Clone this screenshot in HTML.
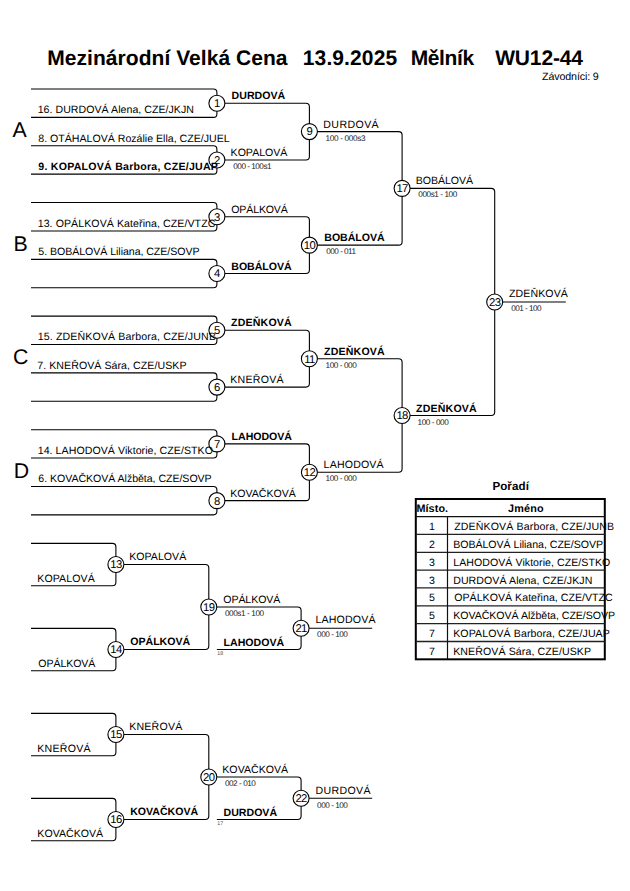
<!DOCTYPE html>
<html><head><meta charset="utf-8"><style>
html,body{margin:0;padding:0;background:#fff;width:630px;height:891px;overflow:hidden}
svg{position:absolute;left:0;top:0}
text{font-family:"Liberation Sans", sans-serif;fill:#000;white-space:pre;text-rendering:geometricPrecision}
.n{font-size:10.6px;font-weight:normal}
.b{font-size:10.6px;font-weight:bold}
.s{font-size:8.2px;font-weight:normal}
.tiny{font-size:5.3px;font-weight:normal}
.title{font-size:21px;font-weight:bold}
.zav{font-size:10.7px;font-weight:normal}
.L{font-size:21.3px;font-weight:normal}
.th{font-size:10.8px;font-weight:bold}
.tn{font-size:10.6px;font-weight:normal}
.tt{font-size:11.6px;font-weight:bold}
.cn{font-size:11.3px;font-weight:normal}
.s{fill:#222}
.tiny{fill:#555}
.cn{text-anchor:middle;letter-spacing:-0.6px}
</style></head><body>
<svg width="630" height="891" viewBox="0 0 630 891">
<g fill="none" stroke="#000" stroke-width="1.1">
<path d="M31.00,89.00H213.40Q216.90,89.00 216.90,92.50V113.89Q216.90,117.39 213.40,117.39H31.00"/>
<circle cx="216.90" cy="103.19" r="8.0" fill="#fff"/>
<path d="M31.00,145.78H213.40Q216.90,145.78 216.90,149.28V170.67Q216.90,174.17 213.40,174.17H31.00"/>
<circle cx="216.90" cy="159.98" r="8.0" fill="#fff"/>
<path d="M31.00,202.56H213.40Q216.90,202.56 216.90,206.06V227.45Q216.90,230.95 213.40,230.95H31.00"/>
<circle cx="216.90" cy="216.75" r="8.0" fill="#fff"/>
<path d="M31.00,259.34H213.40Q216.90,259.34 216.90,262.84V284.23Q216.90,287.73 213.40,287.73H31.00"/>
<circle cx="216.90" cy="273.54" r="8.0" fill="#fff"/>
<path d="M31.00,316.12H213.40Q216.90,316.12 216.90,319.62V341.01Q216.90,344.51 213.40,344.51H31.00"/>
<circle cx="216.90" cy="330.31" r="8.0" fill="#fff"/>
<path d="M31.00,372.90H213.40Q216.90,372.90 216.90,376.40V397.79Q216.90,401.29 213.40,401.29H31.00"/>
<circle cx="216.90" cy="387.10" r="8.0" fill="#fff"/>
<path d="M31.00,429.68H213.40Q216.90,429.68 216.90,433.18V454.57Q216.90,458.07 213.40,458.07H31.00"/>
<circle cx="216.90" cy="443.88" r="8.0" fill="#fff"/>
<path d="M31.00,486.46H213.40Q216.90,486.46 216.90,489.96V511.35Q216.90,514.85 213.40,514.85H31.00"/>
<circle cx="216.90" cy="500.66" r="8.0" fill="#fff"/>
<path d="M224.90,103.19H305.90Q309.40,103.19 309.40,106.69V156.48Q309.40,159.98 305.90,159.98H224.90"/>
<circle cx="309.40" cy="131.59" r="8.0" fill="#fff"/>
<path d="M224.90,216.75H305.90Q309.40,216.75 309.40,220.25V270.04Q309.40,273.54 305.90,273.54H224.90"/>
<circle cx="309.40" cy="245.15" r="8.0" fill="#fff"/>
<path d="M224.90,330.31H305.90Q309.40,330.31 309.40,333.81V383.60Q309.40,387.10 305.90,387.10H224.90"/>
<circle cx="309.40" cy="358.71" r="8.0" fill="#fff"/>
<path d="M224.90,443.88H305.90Q309.40,443.88 309.40,447.38V497.16Q309.40,500.66 305.90,500.66H224.90"/>
<circle cx="309.40" cy="472.26" r="8.0" fill="#fff"/>
<path d="M317.40,131.59H398.60Q402.10,131.59 402.10,135.09V241.65Q402.10,245.15 398.60,245.15H317.40"/>
<circle cx="402.10" cy="188.37" r="8.0" fill="#fff"/>
<path d="M317.40,358.71H398.60Q402.10,358.71 402.10,362.21V468.76Q402.10,472.26 398.60,472.26H317.40"/>
<circle cx="402.10" cy="415.49" r="8.0" fill="#fff"/>
<path d="M410.10,188.37H491.20Q494.70,188.37 494.70,191.87V411.99Q494.70,415.49 491.20,415.49H410.10"/>
<circle cx="494.70" cy="301.93" r="8.0" fill="#fff"/>
<path d="M502.70,301.93H565.80"/>
<path d="M31.00,543.40H112.40Q115.90,543.40 115.90,546.90V582.20Q115.90,585.70 112.40,585.70H31.00"/>
<circle cx="115.90" cy="564.55" r="8.0" fill="#fff"/>
<path d="M31.00,628.40H112.40Q115.90,628.40 115.90,631.90V667.20Q115.90,670.70 112.40,670.70H31.00"/>
<circle cx="115.90" cy="649.55" r="8.0" fill="#fff"/>
<path d="M123.90,564.55H205.30Q208.80,564.55 208.80,568.05V646.05Q208.80,649.55 205.30,649.55H123.90"/>
<circle cx="208.80" cy="607.05" r="8.0" fill="#fff"/>
<path d="M216.90,607.05H297.60Q301.10,607.05 301.10,610.55V646.05Q301.10,649.55 297.60,649.55H216.90"/>
<circle cx="301.10" cy="628.30" r="8.0" fill="#fff"/>
<path d="M309.10,628.30H372.20"/>
<path d="M31.00,713.40H112.40Q115.90,713.40 115.90,716.90V752.20Q115.90,755.70 112.40,755.70H31.00"/>
<circle cx="115.90" cy="734.55" r="8.0" fill="#fff"/>
<path d="M31.00,798.40H112.40Q115.90,798.40 115.90,801.90V837.20Q115.90,840.70 112.40,840.70H31.00"/>
<circle cx="115.90" cy="819.55" r="8.0" fill="#fff"/>
<path d="M123.90,734.55H205.30Q208.80,734.55 208.80,738.05V816.05Q208.80,819.55 205.30,819.55H123.90"/>
<circle cx="208.80" cy="777.05" r="8.0" fill="#fff"/>
<path d="M216.90,777.05H297.60Q301.10,777.05 301.10,780.55V816.05Q301.10,819.55 297.60,819.55H216.90"/>
<circle cx="301.10" cy="798.30" r="8.0" fill="#fff"/>
<path d="M309.10,798.30H372.20"/>
</g>
<rect x="415.8" y="499.0" width="189.00" height="160.32" fill="none" stroke="#000" stroke-width="2"/>
<path d="M415.8,516.6H604.8" stroke="#111" stroke-width="1.4"/>
<path d="M415.8,534.44H604.8" stroke="#222" stroke-width="1.3"/>
<path d="M415.8,552.28H604.8" stroke="#222" stroke-width="1.3"/>
<path d="M415.8,570.12H604.8" stroke="#222" stroke-width="1.3"/>
<path d="M415.8,587.96H604.8" stroke="#222" stroke-width="1.3"/>
<path d="M415.8,605.80H604.8" stroke="#222" stroke-width="1.3"/>
<path d="M415.8,623.64H604.8" stroke="#222" stroke-width="1.3"/>
<path d="M415.8,641.48H604.8" stroke="#222" stroke-width="1.3"/>
<path d="M447.5,516.6V659.32" stroke="#111" stroke-width="1.2"/>
<text x="216.90" y="107.09" class="cn">1</text>
<text x="216.90" y="163.88" class="cn">2</text>
<text x="216.90" y="220.66" class="cn">3</text>
<text x="216.90" y="277.44" class="cn">4</text>
<text x="216.90" y="334.21" class="cn">5</text>
<text x="216.90" y="391.00" class="cn">6</text>
<text x="216.90" y="447.77" class="cn">7</text>
<text x="216.90" y="504.56" class="cn">8</text>
<text x="309.40" y="135.49" class="cn">9</text>
<text x="309.40" y="249.05" class="cn">10</text>
<text x="309.40" y="362.61" class="cn">11</text>
<text x="309.40" y="476.16" class="cn">12</text>
<text x="402.10" y="192.27" class="cn">17</text>
<text x="402.10" y="419.38" class="cn">18</text>
<text x="494.70" y="305.82" class="cn">23</text>
<text x="12.5" y="136.8" class="L">A</text>
<text x="13.6" y="250.9" class="L">B</text>
<text x="13.1" y="363.9" class="L">C</text>
<text x="13.8" y="477.9" class="L">D</text>
<text x="115.90" y="568.45" class="cn">13</text>
<text x="115.90" y="653.45" class="cn">14</text>
<text x="208.80" y="610.95" class="cn">19</text>
<text x="301.10" y="632.20" class="cn">21</text>
<text x="217.2" y="654.85" class="tiny">18</text>
<text x="115.90" y="738.45" class="cn">15</text>
<text x="115.90" y="823.45" class="cn">16</text>
<text x="208.80" y="780.95" class="cn">20</text>
<text x="301.10" y="802.20" class="cn">22</text>
<text x="217.2" y="824.85" class="tiny">17</text>
<text x="432" y="530.00" class="tn" text-anchor="middle">1</text>
<text x="432" y="547.84" class="tn" text-anchor="middle">2</text>
<text x="432" y="565.68" class="tn" text-anchor="middle">3</text>
<text x="432" y="583.52" class="tn" text-anchor="middle">3</text>
<text x="432" y="601.36" class="tn" text-anchor="middle">5</text>
<text x="432" y="619.20" class="tn" text-anchor="middle">5</text>
<text x="432" y="637.04" class="tn" text-anchor="middle">7</text>
<text x="432" y="654.88" class="tn" text-anchor="middle">7</text>
<text x="37.70" y="113.29" class="n" style="letter-spacing:0.031px">16. DURDOVÁ Alena, CZE/JKJN</text>
<text x="38.30" y="141.68" class="n">8. OTÁHALOVÁ Rozálie Ella, CZE/JUEL</text>
<text x="38.30" y="170.07" class="b" style="letter-spacing:0.239px">9. KOPALOVÁ Barbora, CZE/JUAP</text>
<text x="37.70" y="226.85" class="n" style="letter-spacing:0.073px">13. OPÁLKOVÁ Kateřina, CZE/VTZC</text>
<text x="38.30" y="255.24" class="n" style="letter-spacing:-0.046px">5. BOBÁLOVÁ Liliana, CZE/SOVP</text>
<text x="37.70" y="340.41" class="n" style="letter-spacing:0.138px">15. ZDEŇKOVÁ Barbora, CZE/JUNB</text>
<text x="37.30" y="368.80" class="n" style="letter-spacing:0.058px">7. KNEŘOVÁ Sára, CZE/USKP</text>
<text x="37.70" y="453.97" class="n" style="letter-spacing:0.060px">14. LAHODOVÁ Viktorie, CZE/STKO</text>
<text x="38.30" y="482.36" class="n" style="letter-spacing:-0.045px">6. KOVAČKOVÁ Alžběta, CZE/SOVP</text>
<text x="231.60" y="99.19" class="b" style="letter-spacing:0.017px">DURDOVÁ</text>
<text x="230.60" y="155.98" class="n" style="letter-spacing:-0.014px">KOPALOVÁ</text>
<text x="233.30" y="168.98" class="s" style="letter-spacing:-0.500px">000 - 100s1</text>
<text x="231.30" y="212.75" class="n" style="letter-spacing:-0.171px">OPÁLKOVÁ</text>
<text x="231.30" y="269.54" class="b" style="letter-spacing:-0.043px">BOBÁLOVÁ</text>
<text x="231.10" y="326.31" class="b" style="letter-spacing:0.171px">ZDEŇKOVÁ</text>
<text x="230.30" y="383.10" class="n" style="letter-spacing:0.233px">KNEŘOVÁ</text>
<text x="231.60" y="439.88" class="b" style="letter-spacing:-0.043px">LAHODOVÁ</text>
<text x="230.30" y="496.66" class="n" style="letter-spacing:-0.025px">KOVAČKOVÁ</text>
<text x="323.30" y="127.59" class="n" style="letter-spacing:0.400px">DURDOVÁ</text>
<text x="325.60" y="140.59" class="s" style="letter-spacing:-0.340px">100 - 000s3</text>
<text x="324.30" y="241.15" class="b" style="letter-spacing:-0.043px">BOBÁLOVÁ</text>
<text x="326.30" y="254.15" class="s" style="letter-spacing:-0.525px">000 - 011</text>
<text x="324.10" y="354.71" class="b" style="letter-spacing:0.171px">ZDEŇKOVÁ</text>
<text x="325.60" y="367.71" class="s" style="letter-spacing:-0.438px">100 - 000</text>
<text x="323.60" y="468.26" class="n" style="letter-spacing:0.171px">LAHODOVÁ</text>
<text x="325.60" y="481.26" class="s" style="letter-spacing:-0.438px">100 - 000</text>
<text x="415.70" y="184.37" class="n" style="letter-spacing:-0.057px">BOBÁLOVÁ</text>
<text x="418.30" y="197.37" class="s" style="letter-spacing:-0.430px">000s1 - 100</text>
<text x="416.10" y="412.09" class="b" style="letter-spacing:0.171px">ZDEŇKOVÁ</text>
<text x="417.60" y="425.09" class="s" style="letter-spacing:-0.438px">100 - 000</text>
<text x="508.90" y="296.73" class="n" style="letter-spacing:0.100px">ZDEŇKOVÁ</text>
<text x="511.20" y="310.93" class="s" style="letter-spacing:-0.538px">001 - 100</text>
<text x="37.30" y="581.70" class="n" style="letter-spacing:0.071px">KOPALOVÁ</text>
<text x="38.30" y="666.70" class="n" style="letter-spacing:-0.086px">OPÁLKOVÁ</text>
<text x="129.20" y="560.45" class="n" style="letter-spacing:0.014px">KOPALOVÁ</text>
<text x="130.20" y="645.45" class="b">OPÁLKOVÁ</text>
<text x="223.30" y="602.85" class="n" style="letter-spacing:-0.100px">OPÁLKOVÁ</text>
<text x="224.90" y="616.05" class="s" style="letter-spacing:-0.400px">000s1 - 100</text>
<text x="223.60" y="645.65" class="b">LAHODOVÁ</text>
<text x="315.50" y="623.30" class="n" style="letter-spacing:0.157px">LAHODOVÁ</text>
<text x="317.10" y="637.30" class="s" style="letter-spacing:-0.475px">000 - 100</text>
<text x="37.30" y="751.70" class="n" style="letter-spacing:0.233px">KNEŘOVÁ</text>
<text x="37.30" y="836.70" class="n" style="letter-spacing:0.013px">KOVAČKOVÁ</text>
<text x="129.20" y="730.45" class="n" style="letter-spacing:0.217px">KNEŘOVÁ</text>
<text x="130.20" y="815.45" class="b" style="letter-spacing:-0.012px">KOVAČKOVÁ</text>
<text x="222.30" y="772.85" class="n" style="letter-spacing:0.012px">KOVAČKOVÁ</text>
<text x="224.90" y="786.05" class="s" style="letter-spacing:-0.450px">002 - 010</text>
<text x="223.60" y="815.65" class="b" style="letter-spacing:-0.017px">DURDOVÁ</text>
<text x="315.50" y="793.90" class="n" style="letter-spacing:0.333px">DURDOVÁ</text>
<text x="317.10" y="807.80" class="s" style="letter-spacing:-0.475px">000 - 100</text>
<text x="47.30" y="65.00" class="title" style="letter-spacing:0.048px">Mezinárodní Velká Cena</text>
<text x="302.80" y="65.00" class="title" style="letter-spacing:0.112px">13.9.2025</text>
<text x="410.70" y="65.00" class="title" style="letter-spacing:-0.380px">Mělník</text>
<text x="495.20" y="65.00" class="title" style="letter-spacing:-0.150px">WU12-44</text>
<text x="542.10" y="79.80" class="zav" style="letter-spacing:-0.136px">Závodníci: 9</text>
<text x="492.40" y="489.50" class="tt" style="letter-spacing:0.080px">Pořadí</text>
<text x="416.40" y="512.10" class="th" style="letter-spacing:0.100px">Místo.</text>
<text x="508.10" y="512.10" class="th" style="letter-spacing:0.175px">Jméno</text>
<text x="454.20" y="530.00" class="tn" style="letter-spacing:0.132px">ZDEŇKOVÁ Barbora, CZE/JUNB</text>
<text x="453.20" y="547.84" class="tn" style="letter-spacing:-0.032px">BOBÁLOVÁ Liliana, CZE/SOVP</text>
<text x="453.20" y="565.68" class="tn" style="letter-spacing:0.050px">LAHODOVÁ Viktorie, CZE/STKO</text>
<text x="453.20" y="583.52" class="tn" style="letter-spacing:0.064px">DURDOVÁ Alena, CZE/JKJN</text>
<text x="454.20" y="601.36" class="tn" style="letter-spacing:0.031px">OPÁLKOVÁ Kateřina, CZE/VTZC</text>
<text x="453.20" y="619.20" class="tn" style="letter-spacing:-0.038px">KOVAČKOVÁ Alžběta, CZE/SOVP</text>
<text x="453.20" y="637.04" class="tn" style="letter-spacing:0.080px">KOPALOVÁ Barbora, CZE/JUAP</text>
<text x="453.20" y="654.88" class="tn" style="letter-spacing:0.090px">KNEŘOVÁ Sára, CZE/USKP</text>
</svg>
</body></html>
